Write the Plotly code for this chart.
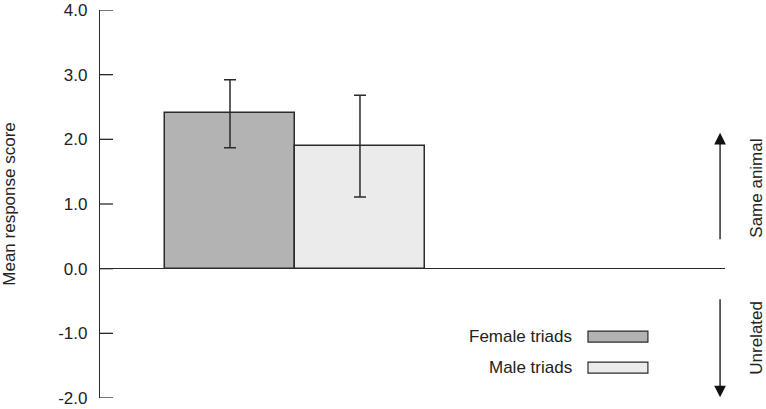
import plotly.graph_objects as go

# values
groups = ["Female triads", "Male triads"]
means = [2.4, 1.9]
err_up = [0.52, 0.78]
err_down = [0.53, 0.79]
fills = ["#b3b3b3", "#ebebeb"]
tick_vals = [-2, -1, 0, 1, 2, 3, 4]
tick_text = ["-2.0", "-1.0", "0.0", "1.0", "2.0", "3.0", "4.0"]

FONT = "Liberation Sans, Arial, sans-serif"
INK = "#2b2b2b"
FS = 17

fig = go.Figure()
for i, (g, m, eu, ed, c) in enumerate(zip(groups, means, err_up, err_down, fills)):
    fig.add_trace(go.Bar(
        x=[i + 1], y=[m], width=1, name=g, marker_color=c,
        marker_line=dict(color=INK, width=1.5),
        error_y=dict(type="data", array=[eu], arrayminus=[ed], color=INK,
                     thickness=1.5, width=6),
        showlegend=False,
    ))

# tick marks pointing into the plot, one per tick value
for tv in tick_vals:
    fig.add_shape(type="line", x0=0, x1=0.1, y0=tv, y1=tv, xref="x", yref="y",
                  line=dict(color=INK, width=1.3))

# legend drawn to the left-text / right-swatch style of the original
legend_y = [-1.05, -1.53]
for g, c, ly in zip(groups, fills, legend_y):
    fig.add_shape(type="rect", x0=3.754, x1=4.215, y0=ly + 0.085, y1=ly - 0.085,
                  xref="x", yref="y", fillcolor=c, line=dict(color=INK, width=1.2))
    fig.add_annotation(x=3.65, y=ly, xref="x", yref="y", text=g, showarrow=False,
                       xanchor="right", yanchor="middle",
                       font=dict(family=FONT, size=FS, color="#222"))

# direction arrows
fig.add_annotation(x=4.77, y=2.1, ax=4.77, ay=0.43, xref="x", yref="y",
                   axref="x", ayref="y", showarrow=True, arrowhead=2,
                   arrowsize=1.8, arrowwidth=1.3, arrowcolor="#111", text="")
fig.add_annotation(x=4.77, y=-1.99, ax=4.77, ay=-0.45, xref="x", yref="y",
                   axref="x", ayref="y", showarrow=True, arrowhead=2,
                   arrowsize=1.8, arrowwidth=1.3, arrowcolor="#111", text="")
fig.add_annotation(x=1.051, y=1.25, xref="paper", yref="y", text="Same animal",
                   textangle=-90, showarrow=False, xanchor="center",
                   font=dict(family=FONT, size=FS, color="#222"))
fig.add_annotation(x=1.051, y=-1.07, xref="paper", yref="y", text="Unrelated",
                   textangle=-90, showarrow=False, xanchor="center",
                   font=dict(family=FONT, size=FS, color="#222"))

fig.update_layout(
    width=766, height=409,
    margin=dict(l=100, r=41, t=10, b=11),
    plot_bgcolor="white", paper_bgcolor="white",
    font=dict(family=FONT, size=FS, color="#222"),
    bargap=0,
    xaxis=dict(range=[0, 4.808], visible=False, fixedrange=True),
    yaxis=dict(range=[-2, 4], tickvals=tick_vals, ticktext=tick_text,
               automargin=False,
               showgrid=False, showline=True, linecolor=INK, linewidth=1.3,
               ticks="", ticklabelstandoff=8,
               zeroline=True, zerolinecolor=INK, zerolinewidth=1.3,
               title=dict(text="Mean response score", standoff=42,
                          font=dict(family=FONT, size=FS))),
)

# page body has a default 8px margin; drop it so the figure fills the window
fig.write_html("out.html", config={"displayModeBar": False},
               post_script="document.body.style.margin='0';")
